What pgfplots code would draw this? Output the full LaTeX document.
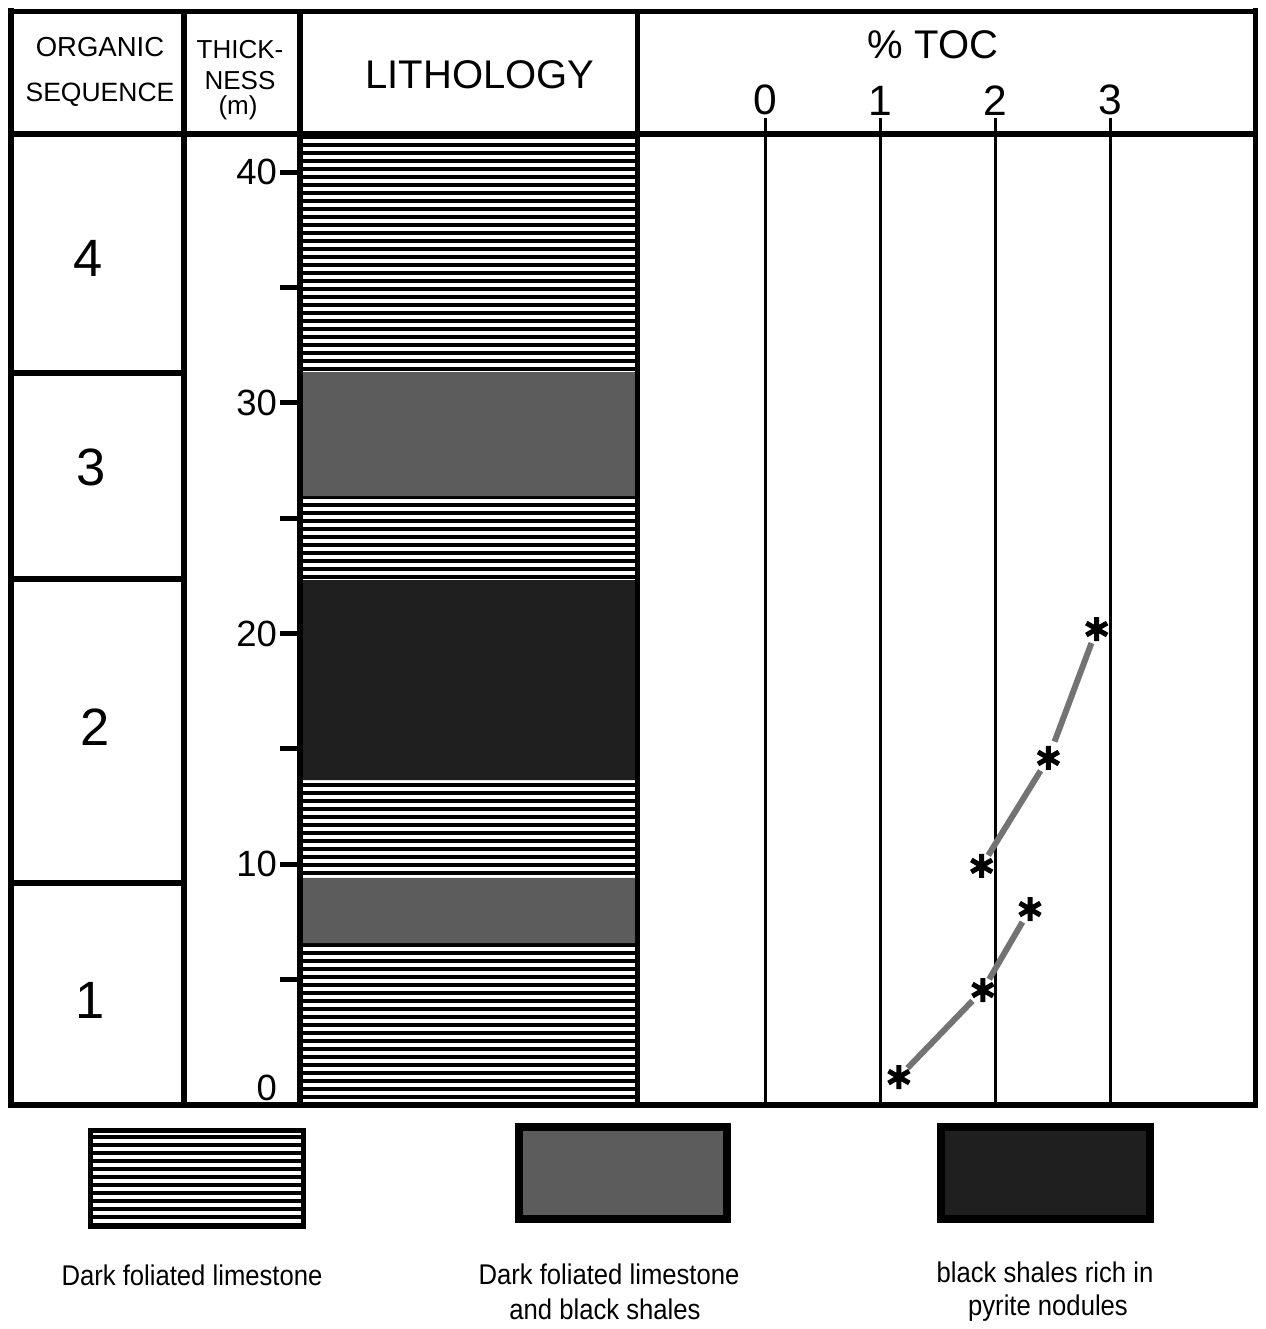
\documentclass[border=0pt]{standalone}
\usepackage{fontspec}
\setmainfont{Liberation Sans}
\newfontfamily\narrowfont[FakeStretch=0.9]{Liberation Sans}
\usepackage{pgfplots}
\pgfplotsset{compat=1.18}
\usetikzlibrary{patterns.meta}
\definecolor{midgray}{gray}{0.36}
\definecolor{darkband}{gray}{0.12}
\definecolor{linegray}{gray}{0.45}
\newcommand{\fs}[1]{\fontsize{#1}{#1}\selectfont}
\tikzset{stripes/.style={pattern={Lines[angle=0,distance=3.2pt,line width=1.6pt]}}}

\begin{document}
\begin{tikzpicture}[x=0.4pt,y=-0.4pt]
\useasboundingbox (0,0) rectangle (1266,1329);

% ---------- lithology column with thickness scale ----------
\begin{axis}[
  at={(120pt,-441.6pt)}, anchor=south west,
  scale only axis, width=134.8pt, height=387.2pt,
  xmin=0, xmax=1, ymin=-0.39, ymax=41.57,
  axis line style={draw=none},
  xtick=\empty,
  ytick={10,20,30,40}, minor ytick={5,15,25,35},
  tick align=outside, major tick length=8pt, minor tick length=8pt,
  tick style={black, line width=2pt},
  ytick pos=left,
  yticklabel style={font=\fs{14.6pt}, inner sep=1pt},
  /pgf/number format/assume math mode=true,
  extra y ticks={0},
  extra y tick style={tick style={draw=none}, yticklabel style={yshift=2.8pt}},
]
\addplot[draw=none, stripes] coordinates {(0,-0.39) (1,-0.39) (1,6.59) (0,6.59) (0,-0.39)};
\addplot[draw=none, fill=midgray] coordinates {(0,6.59) (1,6.59) (1,9.41) (0,9.41) (0,6.59)};
\addplot[draw=none, stripes] coordinates {(0,9.41) (1,9.41) (1,13.65) (0,13.65) (0,9.41)};
\addplot[draw=none, fill=darkband] coordinates {(0,13.65) (1,13.65) (1,22.32) (0,22.32) (0,13.65)};
\addplot[draw=none, stripes] coordinates {(0,22.32) (1,22.32) (1,25.96) (0,25.96) (0,22.32)};
\addplot[draw=none, fill=midgray] coordinates {(0,25.96) (1,25.96) (1,31.34) (0,31.34) (0,25.96)};
\addplot[draw=none, stripes] coordinates {(0,31.34) (1,31.34) (1,41.57) (0,41.57) (0,31.34)};
\end{axis}

% ---------- TOC plot ----------
\begin{axis}[
  at={(254.8pt,-441.6pt)}, anchor=south west,
  scale only axis, width=247.6pt, height=387.2pt,
  xmin=-1.117, xmax=4.265, ymin=-0.39, ymax=41.57,
  axis line style={draw=none},
  ytick=\empty,
  xtick={0,1,2,3},
  xtick pos=upper, xticklabel pos=upper,
  tick align=outside, major tick length=7.2pt,
  tick style={black, line width=1.2pt},
  xmajorgrids, grid style={black, line width=1.2pt},
  xticklabel style={font=\fs{17pt}, inner sep=1pt},
  /pgf/number format/assume math mode=true,
]
\addplot[linegray, line width=2.4pt, shorten <=5pt, shorten >=6pt] coordinates {(1.16,0.78) (1.89,4.55)};
\addplot[linegray, line width=2.4pt, shorten <=5pt, shorten >=6pt] coordinates {(1.89,4.55) (2.30,8.06)};
\addplot[linegray, line width=2.4pt, shorten <=5pt, shorten >=6pt] coordinates {(1.88,9.93) (2.46,14.61)};
\addplot[linegray, line width=2.4pt, shorten <=7pt, shorten >=6pt] coordinates {(2.46,14.61) (2.88,20.2)};
\addplot[only marks, black, mark=asterisk, mark size=4.8pt, mark options={line width=2pt}]
  coordinates {(1.16,0.78) (1.89,4.55) (2.30,8.06) (1.88,9.93) (2.46,14.61) (2.88,20.2)};
\end{axis}

% ---------- frame ----------
\draw[line width=2pt] (8,11) -- (1258,11);
\draw[line width=2.4pt] (8,1105) -- (1258,1105);
\draw[line width=2.4pt] (11,8) -- (11,1108);
\draw[line width=2pt] (1255,8) -- (1255,1108);
\draw[line width=2.4pt] (8,134) -- (1258,134);
\draw[line width=2.4pt] (184,11) -- (184,1105);
\draw[line width=2.4pt] (300,11) -- (300,1105);
\draw[line width=2pt] (637,11) -- (637,1105);
\draw[line width=2.4pt] (11,373) -- (184,373);
\draw[line width=2.4pt] (11,579) -- (184,579);
\draw[line width=2.4pt] (11,883) -- (184,883);

% ---------- header texts ----------
\node[font=\fs{11pt}] at (100,47) {ORGANIC};
\node[font=\fs{10.6pt}] at (100,95) {SEQUENCE};
\node[font=\fs{10.4pt}] at (240,50) {THICK-};
\node[font=\fs{10.4pt}] at (240,81) {NESS};
\node[font=\fs{10.4pt}] at (238,108) {(m)};
\node[font=\fs{16pt}] at (480,75) {LITHOLOGY};
\node[font=\fs{16pt}] at (933,45) {\% TOC};

% ---------- sequence numbers ----------
\node[font=\fs{21pt}] at (88,258) {4};
\node[font=\fs{21pt}] at (91,467) {3};
\node[font=\fs{21pt}] at (95,727) {2};
\node[font=\fs{21pt}] at (90,1000) {1};

% ---------- legend ----------
\fill[stripes] (90,1130) rectangle (303,1226);
\draw[line width=2pt] (90,1130) rectangle (303,1226);
\filldraw[fill=midgray, draw=black, line width=3.2pt] (519,1127) rectangle (727,1219);
\filldraw[fill=darkband, draw=black, line width=3.2pt] (941,1127) rectangle (1150,1219);

\node[font=\narrowfont\fs{11.4pt}] at (192,1275) {Dark foliated limestone};
\node[font=\narrowfont\fs{11.4pt}] at (609,1274) {Dark foliated limestone};
\node[font=\narrowfont\fs{11.4pt}] at (605,1309) {and black shales};
\node[font=\narrowfont\fs{11.4pt}] at (1045,1272) {black shales rich in};
\node[font=\narrowfont\fs{11.4pt}] at (1048,1308) {pyrite nodules};
\end{tikzpicture}
\end{document}
